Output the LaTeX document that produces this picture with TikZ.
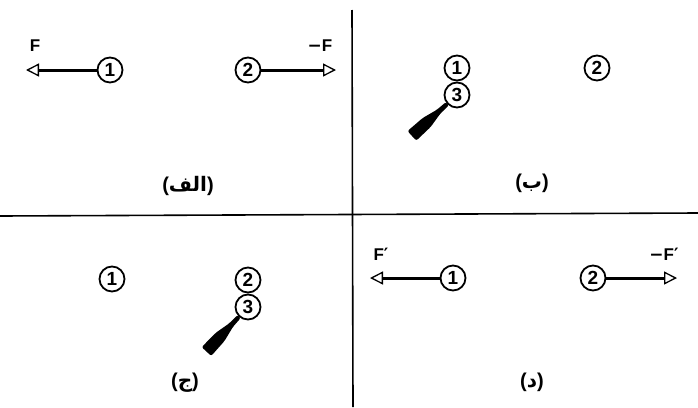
\documentclass[tikz,border=0pt]{standalone}
\usepackage{fontspec}
\setmainfont{Liberation Sans}
\newfontfamily\arabicfont[Script=Arabic]{DejaVu Sans}
\newfontfamily\symfont{DejaVu Sans}
\TeXXeTstate=1
\usetikzlibrary{arrows.meta}
\begin{document}
\begin{tikzpicture}[x=1pt,y=-1pt,
  ball/.style={circle,draw,line width=1.8pt,minimum size=25pt,inner sep=0pt,font=\fontsize{19}{19}\selectfont\bfseries},
  force/.style={line width=3pt,-{Triangle[open,length=13pt,width=13pt,line width=1.3pt]}},
  flabel/.style={font=\fontsize{17}{17}\selectfont\bfseries},
  plabel/.style={font=\fontsize{20}{20}\selectfont\bfseries},
  divider/.style={line width=1.6pt},
  paddle/.style={fill=black,rounded corners=2pt}]
\useasboundingbox (0,0) rectangle (698,407);
% dividers
\coordinate (vt) at (352,10);
\coordinate (vb) at (353,407);
\coordinate (hl) at (0,216);
\coordinate (hr) at (698,213);
\draw[divider] (vt) -- (vb);
\draw[divider] (hl) -- (hr);
% panel a
\node[ball] (a1) at (110,70) {1};
\node[ball] (a2) at (248,70) {2};
\coordinate (at1) at (26,70);
\coordinate (at2) at (336,70);
\draw[force] (a1.west) -- (at1);
\draw[force] (a2.east) -- (at2);
\node[flabel] (aF1) at (35,46) {F};
\node[flabel] (aF2) at (320,46) {{\symfont\bfseries −}F};
\node[plabel] (la) at (188,186) {({\arabicfont\bfseries\beginR الف\endR})};
% panel b
\node[ball] (b1) at (457,68) {1};
\node[ball] (b3) at (457,95) {3};
\node[ball] (b2) at (597,68) {2};
\begin{scope}[shift={(447.4,103.7)},x={(-0.74pt,-0.67pt)},y={(-0.67pt,0.74pt)}]
\fill[paddle] (0,-2.2) -- (12,-2.6) -- (28,-6) -- (48,-6.5) -- (48,6.5) -- (28,6) -- (12,2.6) -- (0,2.2) -- cycle;
\end{scope}
\node[plabel] (lb) at (532,183) {({\arabicfont\bfseries\beginR ب\endR})};
% panel c
\node[ball] (c1) at (112,279) {1};
\node[ball] (c2) at (248,280) {2};
\node[ball] (c3) at (248,307) {3};
\begin{scope}[shift={(239.1,316.5)},x={(-0.68pt,-0.73pt)},y={(-0.73pt,0.68pt)}]
\fill[paddle] (0,-2.2) -- (12,-2.6) -- (28,-6) -- (48,-6.5) -- (48,6.5) -- (28,6) -- (12,2.6) -- (0,2.2) -- cycle;
\end{scope}
\node[plabel] (lc) at (185,383) {({\arabicfont\bfseries\beginR ج\endR})};
% panel d
\node[ball] (d1) at (453,278) {1};
\node[ball] (d2) at (593,278) {2};
\coordinate (dt1) at (370,278);
\coordinate (dt2) at (677,278);
\draw[force] (d1.west) -- (dt1);
\draw[force] (d2.east) -- (dt2);
\node[flabel] (dF1) at (381,254) {F{\symfont\bfseries ′}};
\node[flabel] (dF2) at (664,254) {{\symfont\bfseries −}F{\symfont\bfseries ′}};
\node[plabel] (ld) at (532,382) {({\arabicfont\bfseries\beginR د\endR})};
\end{tikzpicture}
\end{document}
